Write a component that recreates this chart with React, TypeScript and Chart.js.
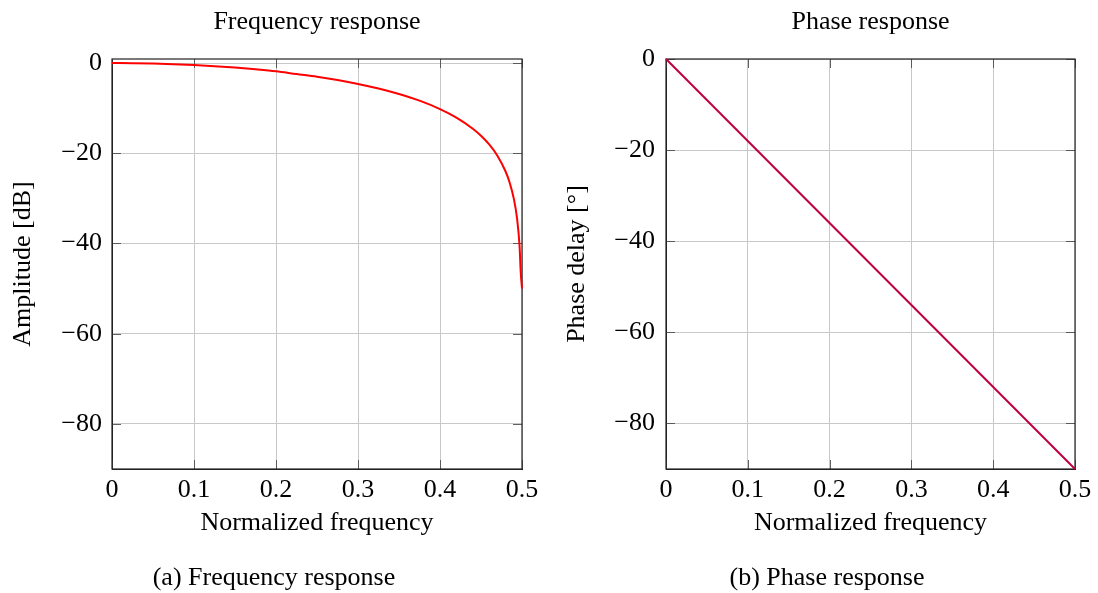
import { useEffect, useRef } from "react";
import { Chart, registerables } from "chart.js";
Chart.register(...registerables);

const FONT = "'Liberation Serif', 'Times New Roman', serif";
const FS = 26;

// Frequency response (amplitude, dB)
const freqX = [0, 0.025, 0.05, 0.075, 0.1, 0.125, 0.15, 0.175, 0.2, 0.225, 0.25, 0.275, 0.3, 0.325, 0.35, 0.375, 0.4, 0.42, 0.44, 0.45, 0.46, 0.47, 0.48, 0.485, 0.49, 0.494, 0.497, 0.4985, 0.5];
const ampDb = [0, -0.03, -0.11, -0.24, -0.44, -0.69, -1.0, -1.39, -1.84, -2.44, -3.01, -3.75, -4.62, -5.64, -6.86, -8.34, -10.2, -12.09, -14.55, -16.11, -18.04, -20.53, -24.04, -26.54, -30.06, -34.49, -40.51, -46.5, -50];

// Phase response (degrees)
const phaseX = [0, 0.5];
const phaseDeg = [0, -90];

const xTicks = [0, 0.1, 0.2, 0.3, 0.4, 0.5];
const yTicks = [0, -20, -40, -60, -80];

const fmt = (v: number) => String(Number(Number(v).toFixed(2))).replace("-", "\u2212");

const framePlugin = {
  id: "frame",
  beforeDatasetsDraw(chart: any) {
    const { ctx, chartArea: a, scales } = chart;
    ctx.save();
    const TL = 9;
    ctx.strokeStyle = "rgba(70,70,70,0.85)";
    ctx.lineWidth = 1;
    ctx.beginPath();
    for (const v of xTicks) {
      const px = Math.round(scales.x.getPixelForValue(v)) + 0.5;
      ctx.moveTo(px, a.bottom);
      ctx.lineTo(px, a.bottom - TL);
      ctx.moveTo(px, a.top);
      ctx.lineTo(px, a.top + TL);
    }
    for (const v of yTicks) {
      const py = Math.round(scales.y.getPixelForValue(v)) + 0.5;
      ctx.moveTo(a.left, py);
      ctx.lineTo(a.left + TL, py);
      ctx.moveTo(a.right, py);
      ctx.lineTo(a.right - TL, py);
    }
    ctx.stroke();
    ctx.strokeStyle = "#222";
    ctx.lineWidth = 1.2;
    ctx.strokeRect(a.left, a.top, a.right - a.left, a.bottom - a.top);
    ctx.restore();
  },
};

function makeConfig(o: {
  xs: number[];
  ys: number[];
  color: string;
  title: string;
  yTitle: string;
  yMax: number;
  yWidth: number;
  yTitlePad: number;
  padRight: number;
  tickPad: number;
  mono: boolean;
}) {
  const font = { family: FONT, size: FS };
  return {
    type: "line",
    data: {
      datasets: [
        {
          data: o.xs.map((x, i) => ({ x, y: o.ys[i] })),
          borderColor: o.color,
          backgroundColor: o.color,
          borderWidth: 2,
          pointRadius: 0,
          fill: false,
          clip: false,
          cubicInterpolationMode: o.mono ? "monotone" : "default",
        },
      ],
    },
    options: {
      responsive: false,
      animation: false,
      layout: { padding: { left: 0, right: o.padRight, top: 0, bottom: 52 } },
      plugins: {
        legend: { display: false },
        tooltip: { enabled: false },
        title: {
          display: true,
          text: o.title,
          fullSize: false,
          color: "#000",
          font: { ...font, weight: "normal" },
          padding: { top: 6.4, bottom: 21.4 },
        },
      },
      scales: {
        x: {
          type: "linear",
          min: 0,
          max: 0.5,
          afterBuildTicks: (s: any) => {
            s.ticks = xTicks.map((v) => ({ value: v }));
          },
          afterFit: (s: any) => {
            s.height = 72;
          },
          ticks: {
            font,
            color: "#000",
            padding: 6,
            maxRotation: 0,
            autoSkip: false,
            callback: (v: any) => fmt(v),
          },
          grid: { color: "#c8c8c8", drawTicks: false, lineWidth: 1 },
          border: { color: "#222", width: 1 },
          title: {
            display: true,
            text: "Normalized frequency",
            font,
            color: "#000",
            padding: { top: 0, bottom: 2.4 },
          },
        },
        y: {
          type: "linear",
          min: -90,
          max: o.yMax,
          afterBuildTicks: (s: any) => {
            s.ticks = yTicks.map((v) => ({ value: v }));
          },
          afterFit: (s: any) => {
            s.width = o.yWidth;
          },
          ticks: {
            font,
            color: "#000",
            padding: o.tickPad,
            autoSkip: false,
            callback: (v: any) => fmt(v),
          },
          grid: { color: "#c8c8c8", drawTicks: false, lineWidth: 1 },
          border: { color: "#222", width: 1 },
          title: {
            display: true,
            text: o.yTitle,
            font,
            color: "#000",
            padding: { top: o.yTitlePad, bottom: 0 },
          },
        },
      },
    },
    plugins: [framePlugin],
  } as any;
}

function ChartCanvas({ config, left }: { config: any; left: number }) {
  const ref = useRef<HTMLCanvasElement | null>(null);
  useEffect(() => {
    if (!ref.current) return;
    const chart = new Chart(ref.current, config);
    return () => chart.destroy();
  }, [config]);
  return (
    <canvas
      ref={ref}
      width={549}
      height={593}
      style={{ position: "absolute", left, top: 0, width: 549, height: 593 }}
    />
  );
}

const leftConfig = makeConfig({
  xs: freqX,
  ys: ampDb,
  color: "#ff0000",
  title: "Frequency response",
  yTitle: "Amplitude [dB]",
  yMax: 0.9,
  yWidth: 112,
  yTitlePad: 7.4,
  padRight: 27,
  tickPad: 10,
  mono: true,
});

const rightConfig = makeConfig({
  xs: phaseX,
  ys: phaseDeg,
  color: "#bf0040",
  title: "Phase response",
  yTitle: "Phase delay [°]",
  yMax: 0,
  yWidth: 117,
  yTitlePad: 12.4,
  padRight: 23,
  tickPad: 11,
  mono: false,
});

const captionStyle = (center: number): any => ({
  position: "absolute",
  top: 577 - 16,
  left: center - 200,
  width: 400,
  textAlign: "center",
  fontFamily: FONT,
  fontSize: FS,
  lineHeight: "32px",
  color: "#000",
  whiteSpace: "nowrap",
});

export default function App() {
  return (
    <div
      style={{
        position: "absolute",
        left: 0,
        top: 0,
        width: 1098,
        height: 593,
        background: "#fff",
        overflow: "hidden",
      }}
    >
      <ChartCanvas config={leftConfig} left={0} />
      <ChartCanvas config={rightConfig} left={549} />
      <div style={captionStyle(274)}>(a) Frequency response</div>
      <div style={captionStyle(827)}>(b) Phase response</div>
    </div>
  );
}
